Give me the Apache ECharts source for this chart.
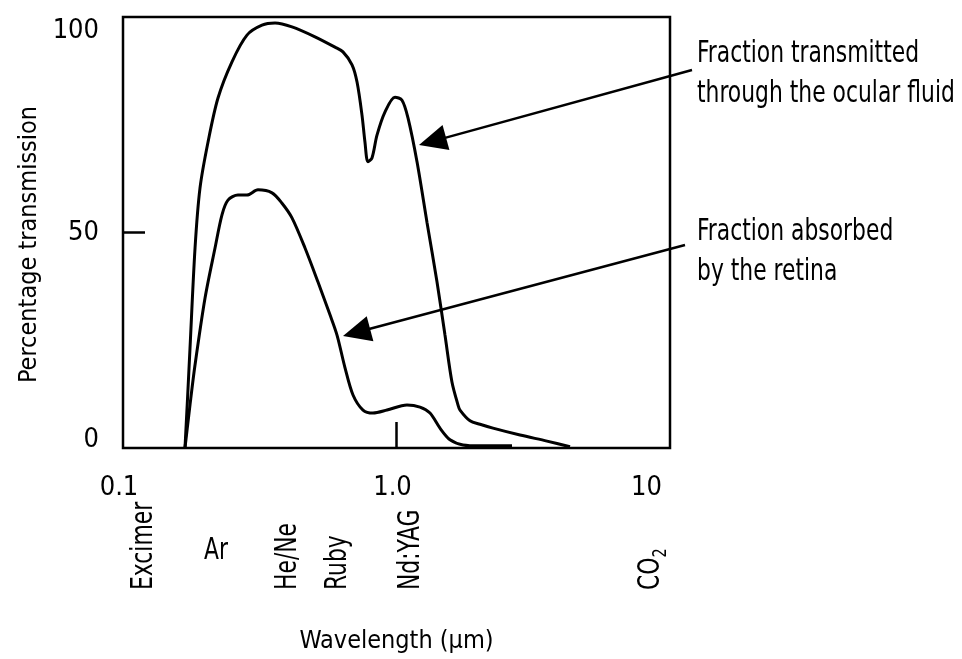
<!DOCTYPE html>
<html><head><meta charset="utf-8">
<script src="https://cdn.jsdelivr.net/npm/echarts@6/dist/echarts.min.js"></script>
<style>html,body{margin:0;padding:0;background:#fff}#c{width:962px;height:659px}</style>
</head><body><div id="c"></div>
<script>
// ---- data ----
const wavelengthA = [0.1685,0.1722,0.1758,0.1834,0.1912,0.2046,0.2225,0.2503,0.2840,0.3223,0.3596,0.4148,0.5035,0.5957,0.6372,0.6877,0.7173,0.7477,0.7667,0.7864,0.8135,0.8485,0.9080,0.9874,1.0474,1.1016,1.1885,1.2923,1.4065,1.504,1.595,1.678,1.707,1.857,2.020,2.253,2.829,3.550,4.310];
const transmitted = [0,11.6,23.2,46.4,60.3,71.0,81.2,89.6,95.8,98.1,98.6,97.7,95.4,93.0,91.9,88.9,84.9,77.3,71.0,66.4,67.3,72.6,78.0,81.4,80.7,76.6,66.4,52.4,38.5,26.2,15.3,10.0,8.8,6.3,5.5,4.6,3.0,1.6,0.3];
const wavelengthB = [0.1685,0.1758,0.1834,0.1995,0.2170,0.2301,0.2420,0.2633,0.2840,0.3116,0.3506,0.3814,0.4148,0.4629,0.5164,0.5713,0.6060,0.6483,0.6934,0.7543,0.8205,0.9232,1.0924,1.2186,1.3258,1.4421,1.569,1.751,2.020,2.644];
const absorbed = [0,10.0,19.3,34.8,46.4,54.1,57.5,58.7,58.7,59.9,59.2,56.8,53.4,46.4,38.5,30.9,26.2,18.6,12.3,8.8,8.1,8.8,10.0,9.5,8.1,4.6,1.9,0.7,0.5,0.5];
const xTickValues = [0.1, 1, 10];
const xTickLabels = ['0.1', '1.0', '10'];
const yTickValues = [0, 50, 100];
const yTickLabels = ['0', '50', '100'];
const laserNames = ['Excimer', 'Ar', 'He/Ne', 'Ruby', 'Nd:YAG', 'CO2'];
const seriesNames = ['Fraction transmitted through the ocular fluid', 'Fraction absorbed by the retina'];
const labelLines = [['Fraction transmitted', 'through the ocular fluid'], ['Fraction absorbed', 'by the retina']];

// ---- layout / style ----
const FONT = '"Liberation Sans Narrow","DejaVu Sans Condensed","Roboto Condensed","Liberation Sans",sans-serif';
const FS = 30;
const SX = 0.81;
const chart = echarts.init(document.getElementById('c'), null, {renderer: 'canvas'});

function arrow(x1, y1, x2, y2) {
  const L = 28, W = 13;
  const dx = x2 - x1, dy = y2 - y1, d = Math.hypot(dx, dy);
  const ux = dx / d, uy = dy / d;
  const bx = x2 - ux * L, by = y2 - uy * L;
  return [
    {type: 'line', shape: {x1: x1, y1: y1, x2: bx + ux * 2, y2: by + uy * 2}, style: {stroke: '#000', lineWidth: 2.5}},
    {type: 'polygon', shape: {points: [[x2, y2], [bx - uy * W, by + ux * W], [bx + uy * W, by - ux * W]]}, style: {fill: '#000'}}
  ];
}

const laserPos = [[144, 590, true], [216, 551, false], [288, 590, true], [338, 590, true], [411, 590, true], [651, 590, true]];
const graphics = [];
laserNames.forEach((n, i) => {
  const p = laserPos[i];
  const isCO2 = n === 'CO2';
  const el = {
    type: 'text', x: p[0], y: p[1], rotation: p[2] ? Math.PI / 2 : 0, scaleX: SX,
    style: {
      text: isCO2 ? '{a|CO}{b|2}' : n,
      fontFamily: FONT, fontSize: FS, fill: '#000',
      align: p[2] ? 'left' : 'center', verticalAlign: 'middle'
    }
  };
  if (isCO2) {
    el.style.rich = {
      a: {fontFamily: FONT, fontSize: FS, fill: '#000', lineHeight: 40, verticalAlign: 'middle'},
      b: {fontFamily: FONT, fontSize: 20, fill: '#000', lineHeight: 20, verticalAlign: 'bottom'}
    };
  }
  graphics.push(el);
});
const textPos = [[697, 54], [697, 232]];
labelLines.forEach((lines, i) => {
  lines.forEach((t, j) => {
    graphics.push({type: 'text', x: textPos[i][0], y: textPos[i][1] + j * 40, scaleX: SX,
      style: {text: t, fontFamily: FONT, fontSize: FS, fill: '#000', align: 'left', verticalAlign: 'middle'}});
  });
});
graphics.push(...arrow(692, 70, 419, 145));
graphics.push(...arrow(685, 245, 343, 336));

function fmtX(v) {
  const i = xTickValues.findIndex(t => Math.abs(Math.log10(t) - Math.log10(v)) < 1e-6);
  return i >= 0 ? xTickLabels[i] : '';
}
function fmtY(v) {
  const i = yTickValues.indexOf(v);
  if (i < 0) return '';
  if (i === 0) return '{lo|' + yTickLabels[i] + '}';
  if (i === yTickValues.length - 1) return '{hi|' + yTickLabels[i] + '}';
  return yTickLabels[i];
}

const option = {
  animation: false,
  backgroundColor: '#fff',
  grid: {left: 123, right: 292, top: 17, bottom: 211, show: true, borderColor: '#000', borderWidth: 2.5, backgroundColor: 'transparent'},
  xAxis: {
    type: 'log', logBase: 10, min: 0.1, max: 10,
    axisLine: {show: false},
    axisTick: {show: true, inside: true, length: 26, customValues: [1], lineStyle: {color: '#000', width: 2.5}},
    minorTick: {show: false}, splitLine: {show: false},
    axisLabel: {color: '#000', fontFamily: FONT, fontSize: 27, margin: 26, formatter: fmtX, alignMaxLabel: 'right', padding: [0, 8, 0, 0]},
    name: 'Wavelength (µm)', nameLocation: 'middle', nameGap: 181,
    nameTextStyle: {color: '#000', fontFamily: FONT, fontSize: 25}
  },
  yAxis: {
    type: 'value', min: 0, max: 100, interval: 50,
    axisLine: {show: false},
    axisTick: {show: true, inside: true, length: 22, customValues: [50], lineStyle: {color: '#000', width: 2.5}},
    splitLine: {show: false},
    axisLabel: {color: '#000', fontFamily: FONT, fontSize: 27, margin: 24, formatter: fmtY,
      rich: {
        lo: {fontFamily: FONT, fontSize: 27, color: '#000', padding: [0, 0, 16, 0]},
        hi: {fontFamily: FONT, fontSize: 27, color: '#000', padding: [28, 0, 0, 0]}
      }},
    name: 'Percentage transmission', nameLocation: 'middle', nameGap: 81,
    nameTextStyle: {color: '#000', fontFamily: FONT, fontSize: 25, padding: [0, 24, 0, 0]}
  },
  series: [
    {name: seriesNames[0], type: 'line', data: wavelengthA.map((w, i) => [w, transmitted[i]]),
      showSymbol: false, smooth: 0.3, clip: false, lineStyle: {color: '#000', width: 3}},
    {name: seriesNames[1], type: 'line', data: wavelengthB.map((w, i) => [w, absorbed[i]]),
      showSymbol: false, smooth: 0.3, clip: false, lineStyle: {color: '#000', width: 3}}
  ],
  graphic: graphics
};
chart.setOption(option);
</script>
</body></html>
